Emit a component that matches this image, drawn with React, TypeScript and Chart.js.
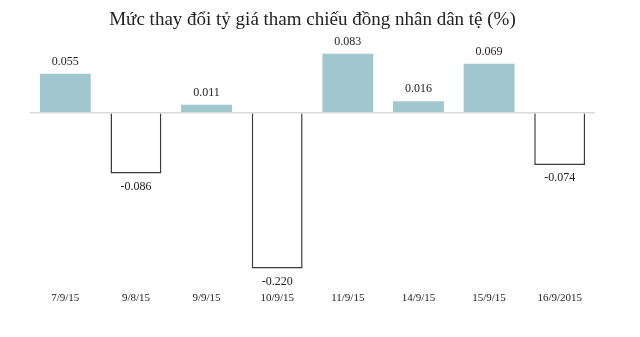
import React, { useEffect, useRef } from "react";
import { Chart, registerables } from "chart.js";

Chart.register(...registerables);

const titleText = "Mức thay đổi tỷ giá tham chiếu đồng nhân dân tệ (%)";
const categories = ["7/9/15", "9/8/15", "9/9/15", "10/9/15", "11/9/15", "14/9/15", "15/9/15", "16/9/2015"];
const changes = [0.055, -0.086, 0.011, -0.22, 0.083, 0.016, 0.069, -0.074];

const TEAL = "#9fc7cd";
const FONT = "'Liberation Serif', 'Times New Roman', serif";

const valueLabels = {
  id: "valueLabels",
  afterDatasetsDraw(chart: any) {
    const ctx = chart.ctx;
    const meta = chart.getDatasetMeta(0);
    ctx.save();
    ctx.font = `12px ${FONT}`;
    ctx.fillStyle = "#222";
    ctx.textAlign = "center";
    ctx.textBaseline = "middle";
    meta.data.forEach((el: any, i: number) => {
      const v = changes[i];
      const y = v >= 0 ? el.y - 12 : el.y + 13;
      ctx.fillText(v.toFixed(3), el.x, y);
    });
    ctx.restore();
  },
};

export default function App() {
  const ref = useRef<HTMLCanvasElement>(null);
  useEffect(() => {
    if (!ref.current) return;
    const chart = new Chart(ref.current, {
      type: "bar",
      data: {
        labels: categories,
        datasets: [
          {
            data: changes,
            backgroundColor: changes.map((v) => (v >= 0 ? TEAL : "#ffffff")),
            borderColor: changes.map((v) => (v >= 0 ? TEAL : "#3a3a3a")),
            borderWidth: changes.map((v) => (v >= 0 ? 0 : 1.5)),
            borderSkipped: "start",
            categoryPercentage: 1,
            barPercentage: 0.72,
          },
        ],
      },
      options: {
        animation: false,
        responsive: true,
        maintainAspectRatio: false,
        layout: { padding: { left: 30, right: 45, top: 0, bottom: 23 } },
        plugins: {
          legend: { display: false },
          tooltip: { enabled: false },
          title: {
            display: true,
            text: titleText,
            color: "#222",
            font: { family: FONT, size: 19, weight: "normal" },
            padding: { top: 9, bottom: 5 },
          },
        },
        scales: {
          x: {
            grid: { display: false, drawTicks: false },
            border: { display: false },
            ticks: { color: "#222", font: { family: FONT, size: 11 }, padding: 9, maxRotation: 0 },
          },
          y: {
            min: -0.24,
            max: 0.107,
            border: { display: false },
            grid: {
              drawTicks: false,
              color: (c: any) => (c.tick && c.tick.value === 0 ? "#d9d9d9" : "rgba(0,0,0,0)"),
              lineWidth: 1.5,
            },
            ticks: { display: false, stepSize: 0.01 },
          },
        },
      },
      plugins: [valueLabels],
    });
    return () => chart.destroy();
  }, []);
  return (
    <div style={{ position: "absolute", left: 0, top: 0, width: 640, height: 337, background: "#fff" }}>
      <canvas ref={ref} />
    </div>
  );
}
